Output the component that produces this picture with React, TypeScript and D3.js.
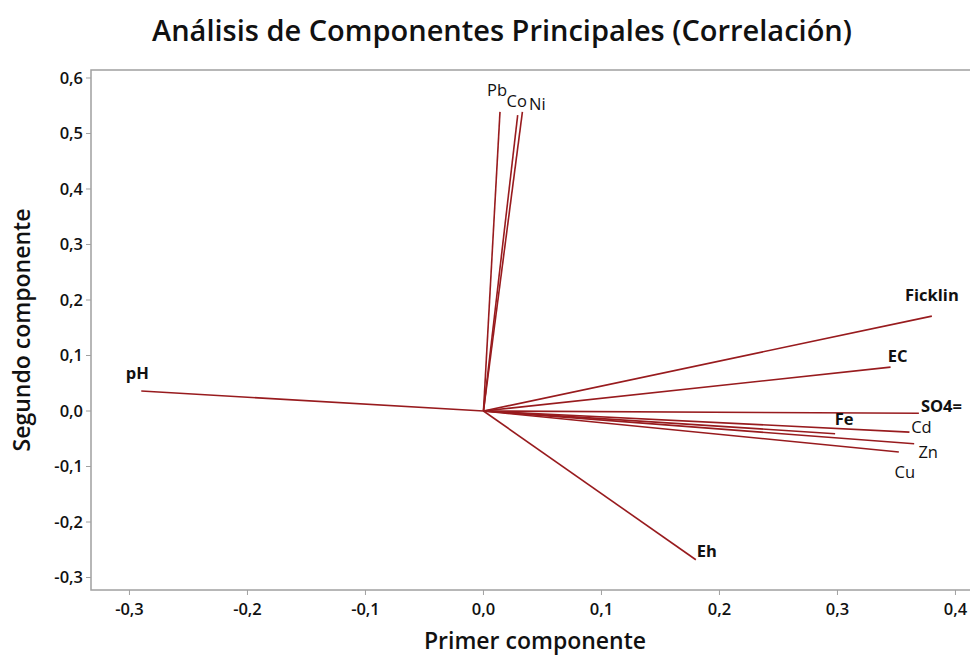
import React from "react";
import * as d3 from "d3";

const variables = ["Pb", "Co", "Ni", "Ficklin", "EC", "SO4=", "Fe", "Cd", "Zn", "Cu", "pH", "Eh"];
const pc1 = [0.014, 0.029, 0.033, 0.38, 0.345, 0.369, 0.298, 0.361, 0.365, 0.352, -0.29, 0.18];
const pc2 = [0.539, 0.533, 0.539, 0.171, 0.079, -0.004, -0.041, -0.038, -0.059, -0.074, 0.036, -0.268];
const boldLabels = ["Ficklin", "EC", "SO4=", "Fe", "pH", "Eh"];
// label offsets (px) relative to vector endpoints
const labelDx = [-3, -1, 15, 0, 7, 2, 9, 12, 14, 6, -4, 11];
const labelDy = [-21, -13, -7, -20, -10, -6, -14, -4, 9, 21, -17, -8];
const labelAnchor = ["middle", "middle", "middle", "middle", "middle", "start", "middle", "middle", "middle", "middle", "middle", "middle"];

const xTicks = [-0.3, -0.2, -0.1, 0.0, 0.1, 0.2, 0.3, 0.4];
const yTicks = [-0.3, -0.2, -0.1, 0.0, 0.1, 0.2, 0.3, 0.4, 0.5, 0.6];

const fmt = (v: number) => d3.format(".1f")(v).replace(".", ",").replace("−", "-");

export default function App() {
  const W = 970, H = 655;
  const left = 91, top = 70, bottom = 590, right = 980;
  const x = d3.scaleLinear().domain([-0.3326, 0.421]).range([left, left + (0.421 + 0.3326) * 1180]);
  const y = d3.scaleLinear().domain([-0.3225, 0.6144]).range([bottom, top]);
  const font = "'Open Sans', 'Noto Sans', sans-serif";
  const lineColor = "#981b1e";
  const axisColor = "#a0a0a0";
  return (
    <svg width={W} height={H} style={{ position: "absolute", left: 0, top: 0, background: "#fff" }} fontFamily={font}>
      <text x={502} y={41} textAnchor="middle" fontSize={28.5} fontWeight={600} fill="#111" textLength={700} lengthAdjust="spacingAndGlyphs">
        Análisis de Componentes Principales (Correlación)
      </text>
      {/* frame */}
      <rect x={left} y={top} width={right - left} height={bottom - top} fill="none" stroke={axisColor} strokeWidth={1.5} />
      {/* y ticks */}
      {yTicks.map((t) => (
        <g key={"y" + t}>
          <line x1={left - 5} x2={left} y1={y(t)} y2={y(t)} stroke={axisColor} strokeWidth={1} />
          <text x={left - 8} y={y(t)} dy="0.35em" textAnchor="end" fontSize={16.5} fontWeight={600} fill="#111">
            {fmt(t)}
          </text>
        </g>
      ))}
      {/* x ticks */}
      {xTicks.map((t) => (
        <g key={"x" + t}>
          <line x1={x(t)} x2={x(t)} y1={bottom} y2={bottom + 5} stroke={axisColor} strokeWidth={1} />
          <text x={x(t)} y={bottom + 25} textAnchor="middle" fontSize={16.5} fontWeight={600} fill="#111">
            {fmt(t)}
          </text>
        </g>
      ))}
      <text x={535} y={649} textAnchor="middle" fontSize={23} fontWeight={600} fill="#111">
        Primer componente
      </text>
      <text transform={`translate(30, ${330}) rotate(-90)`} textAnchor="middle" fontSize={23} fontWeight={600} fill="#111">
        Segundo componente
      </text>
      {/* vectors */}
      {variables.map((v, i) => (
        <line key={"l" + v} x1={x(0)} y1={y(0)} x2={x(pc1[i])} y2={y(pc2[i])} stroke={lineColor} strokeWidth={1.6} />
      ))}
      {variables.map((v, i) => (
        <text
          key={"t" + v}
          x={x(pc1[i]) + labelDx[i]}
          y={y(pc2[i]) + labelDy[i]}
          dy="0.3em"
          textAnchor={labelAnchor[i]}
          fontSize={16.5}
          fontWeight={boldLabels.includes(v) ? 700 : 400}
          fill="#111"
        >
          {v}
        </text>
      ))}
    </svg>
  );
}
